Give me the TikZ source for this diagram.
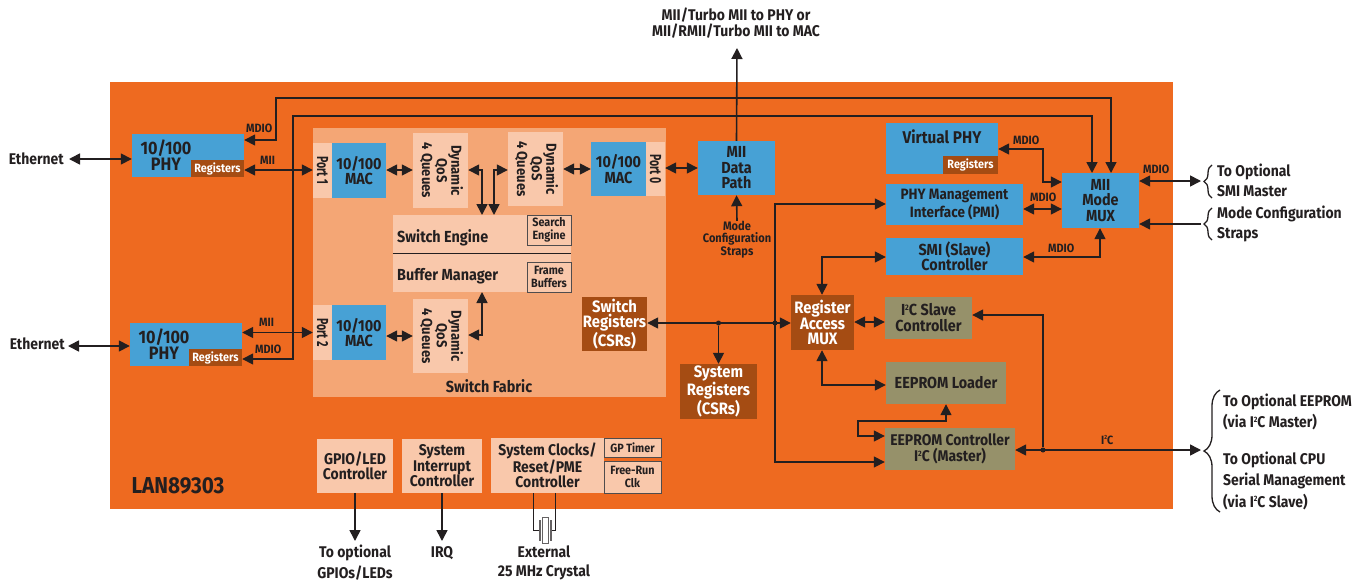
\documentclass[tikz,border=0pt]{standalone}
\usepackage{fontspec}
\setmainfont[FakeStretch=0.9]{Fira Sans}
\newfontfamily\portfont[FakeStretch=0.66]{Fira Sans}
\usetikzlibrary{arrows.meta,decorations.pathreplacing}
\definecolor{orng}{HTML}{EE6A20}
\definecolor{fabric}{HTML}{F4A675}
\definecolor{lite}{HTML}{F9C8AB}
\definecolor{blu}{HTML}{47A1D5}
\definecolor{brn}{HTML}{A54C13}
\definecolor{olv}{HTML}{96916A}
\definecolor{ink}{HTML}{231F20}
\newcommand\fsz[2]{\fontsize{#1}{#2}\selectfont}
\newcommand\sqd{\raisebox{0.36em}{\fontsize{0.5em}{0.5em}\selectfont 2}}
\newcommand\bx[7]{\node[#6,minimum width={(#4-(#2))*1pt},minimum height={(#5-(#3))*1pt},inner sep=0pt] (#1) at ({(#2+#4)/2},{(#3+#5)/2}) {#7};}
\tikzset{
 base/.style={text=ink,align=center,font=\fsz{15.5}{15.5}\bfseries},
 bluebox/.style={base,fill=blu,font=\fsz{16}{15.5}\bfseries},
 litebox/.style={base,fill=lite},
 portbox/.style={base,fill=lite,font=\portfont\fsz{16}{16}\bfseries},
 queuebox/.style={base,fill=lite,font=\fsz{14.5}{14.5}\bfseries},
 brnbox/.style={base,fill=brn,text=white,font=\fsz{16.5}{15.7}\bfseries},
 olvbox/.style={base,fill=olv,font=\fsz{16}{16}\bfseries},
 regbox/.style={base,fill=brn,text=white,font=\fsz{12}{12}\bfseries},
 subbox/.style={base,fill=lite,draw=ink!80,line width=0.8pt,font=\fsz{12}{13}\bfseries},
 lbl/.style={text=ink,font=\fsz{12}{12}\bfseries,inner sep=0pt},
 ext/.style={text=ink,font=\fsz{15.5}{15.5}\bfseries,inner sep=0pt,align=center},
 extl/.style={ext,anchor=west,align=left},
 wire/.style={draw=ink,line width=1.6pt},
 one/.style={wire,-{Triangle[length=11pt,width=11pt]}},
 two/.style={wire,{Triangle[length=11pt,width=11pt]}-{Triangle[length=11pt,width=11pt]}},
 dotj/.style={circle,fill=ink,inner sep=0pt,minimum size=5pt},
 brc/.style={draw=ink,line width=1.3pt,decorate,decoration={brace,amplitude=#1}},
 thin wire/.style={draw=ink,line width=0.9pt},
}
\begin{document}
\begin{tikzpicture}[x=1pt,y=-1pt]
\useasboundingbox (0,0) rectangle (1366,584);
% backgrounds
\bx{chip}{110}{82}{1173}{509}{fill=orng}{}
\bx{fabricbox}{313}{128}{666}{397}{fill=fabric}{}
% PHYs
\bx{phyA}{132}{134}{244}{177}{bluebox}{}
\node[base,font=\fsz{18}{16}\bfseries,inner sep=0pt] (phyAt) at (166,155) {10/100\\PHY};
\bx{phyAr}{191}{160}{244}{177}{regbox}{Registers}
\bx{phyB}{130}{323}{242}{366}{bluebox}{}
\node[base,font=\fsz{18}{16}\bfseries,inner sep=0pt] (phyBt) at (164,344) {10/100\\PHY};
\bx{phyBr}{189}{349}{242}{366}{regbox}{Registers}
% ports and MACs
\bx{portA}{313}{143}{332}{198}{portbox}{\rotatebox{-90}{Port 1}}
\bx{macA}{332}{143}{386}{198}{bluebox}{10/100\\MAC}
\bx{portB}{313}{305}{332}{360}{portbox}{\rotatebox{-90}{Port 2}}
\bx{macB}{332}{305}{386}{360}{bluebox}{10/100\\MAC}
\bx{macO}{591}{142}{646}{196}{bluebox}{10/100\\MAC}
\bx{portO}{646}{142}{665}{196}{portbox}{\rotatebox{-90}{Port 0}}
% queues
\bx{qA}{413}{133}{468}{208}{queuebox}{\rotatebox{-90}{\begin{tabular}{@{}c@{}}Dynamic\\QoS\\4 Queues\end{tabular}}}
\bx{qO}{508}{132}{563}{206}{queuebox}{\rotatebox{-90}{\begin{tabular}{@{}c@{}}Dynamic\\QoS\\4 Queues\end{tabular}}}
\bx{qB}{413}{299}{468}{373}{queuebox}{\rotatebox{-90}{\begin{tabular}{@{}c@{}}Dynamic\\QoS\\4 Queues\end{tabular}}}
% switch engine
\bx{swe}{393}{215}{571}{292}{fill=lite}{}
\draw[thin wire] (swe.west |- 0,253) -- (swe.east |- 0,253);
\node[base,anchor=west,inner sep=0pt,font=\fsz{16}{16}\bfseries] (swet) at (397,238) {Switch Engine};
\node[base,anchor=west,inner sep=0pt,font=\fsz{16}{16}\bfseries] (buft) at (397,276) {Buffer Manager};
\bx{srch}{527}{215}{571}{245}{subbox}{Search\\Engine}
\bx{frame}{527}{262}{571}{292}{subbox}{Frame\\Buffers}
\node[base,inner sep=0pt,font=\fsz{16}{16}\bfseries] (sft) at (489,386) {Switch Fabric};
% registers
\bx{swr}{582}{297}{647}{351}{brnbox}{Switch\\Registers\\(CSRs)}
\bx{sysr}{680}{364}{757}{419}{brnbox}{System\\Registers\\(CSRs)}
\bx{ram}{791}{295}{854}{350}{brnbox}{Register\\Access\\MUX}
% olive
\bx{i2cs}{885}{297}{972}{339}{olvbox}{I\sqd C Slave\\Controller}
\bx{eel}{886}{362}{1006}{404}{olvbox}{EEPROM Loader}
\bx{eec}{885}{428}{1015}{470}{olvbox,font=\fsz{15.5}{16}\bfseries}{EEPROM Controller\\I\sqd C (Master)}
% right blue
\bx{mii}{698}{141}{775}{195}{bluebox}{MII\\Data\\Path}
\bx{vphy}{886}{123}{998}{174}{bluebox}{}
\node[base,font=\fsz{17}{17}\bfseries,inner sep=0pt] (vphyt) at (942,137) {Virtual PHY};
\bx{vphyr}{943}{156}{998}{174}{regbox}{Registers}
\bx{pmi}{886}{184}{1023}{225}{bluebox,font=\fsz{15}{15.5}\bfseries}{PHY Management\\Interface (PMI)}
\bx{smi}{886}{238}{1023}{275}{bluebox}{SMI (Slave)\\Controller}
\bx{mux}{1062}{173}{1139}{228}{bluebox}{MII\\Mode\\MUX}
% bottom
\bx{gpio}{317}{439}{393}{493}{litebox}{GPIO/LED\\Controller}
\bx{sint}{402}{439}{482}{493}{litebox}{System\\Interrupt\\Controller}
\bx{clk}{491}{438}{604}{493}{litebox}{System Clocks/\\Reset/PME\\Controller}
\bx{gpt}{604}{438}{661}{457}{subbox}{GP Timer}
\bx{frc}{604}{461}{661}{493}{subbox}{Free-Run\\Clk}
\node[text=ink,font=\fsz{23}{23}\bfseries,inner sep=0pt] (lan) at (178,486) {LAN89303};
% external terminals
\node[ext,anchor=east] (ethA) at (64,159) {Ethernet};
\node[ext,anchor=east] (ethB) at (65,344) {Ethernet};
\node[ext] (topt) at (736,23) {MII/Turbo MII to PHY or\\MII/RMII/Turbo MII to MAC};
\node[text=ink,font=\fsz{12.3}{12.5}\bfseries,inner sep=0pt,align=center] (strp) at (737,239.5) {Mode\\Configuration\\Straps};
\node[extl] (smim) at (1217,180.5) {To Optional\\[4pt]SMI Master};
\node[extl] (mcfg) at (1217,224) {Mode Configuration\\[4pt]Straps};
\node[extl] (eopt) at (1223,412) {To Optional EEPROM\\[4pt](via I\sqd C Master)};
\node[extl] (copt) at (1223,481) {To Optional CPU\\[4pt]Serial Management\\[4pt](via I\sqd C Slave)};
\node[ext] (gpot) at (355,563) {To optional\\[4pt]GPIOs/LEDs};
\node[ext] (irq) at (442,553) {IRQ};
\node[ext] (xtal) at (544,563) {External\\[4pt]25 MHz Crystal};
% free ends
\coordinate (r1) at (1201,181);
\coordinate (r2) at (1201,224);
\coordinate (r3) at (1201,450);
\coordinate (gpoe) at (355,541);
\coordinate (irqe) at (442,541);
\coordinate (tope) at (737,48);
% junctions
\node[dotj] (j1) at (718.5,323) {};
\node[dotj] (j2) at (775,323) {};
\node[dotj] (j3) at (1043,450) {};
% connectors
\draw[two,shorten <=5pt] (ethA.east |- 0,159) -- (phyA.west |- 0,159);
\draw[two,shorten <=3pt] (ethB.east |- 0,346) -- (phyB.west |- 0,346);
\draw[two] (phyA.east |- 0,140) -- (276,140) -- (276,98) -- (1111,98) -- (1111,173);
\draw[two] (phyBr.east |- 0,359) -- (293,359) -- (293,116) -- (1092,116) -- (1092,173);
\draw[two] (phyAr.east |- 0,170) -- (portA.west |- 0,170);
\draw[two] (phyB.east |- 0,332.5) -- (portB.west |- 0,332.5);
\draw[two] (macA.east |- 0,170) -- (qA.west |- 0,170);
\draw[two] (macB.east |- 0,336) -- (qB.west |- 0,336);
\draw[two] (qO.east |- 0,169) -- (macO.west |- 0,169);
\draw[two] (portO.east |- 0,168) -- (mii.west |- 0,168);
\draw[two] (qA.east |- 0,170) -- (482,170) -- (482,215);
\draw[two] (qO.west |- 0,170) -- (494,170) -- (494,215);
\draw[two] (qB.east |- 0,335) -- (482,335) -- (482,292);
\draw[one] (mii.north) -- (tope);
\draw[one] (strp.north) -- (mii.south);
\draw[two] (vphy.east |- 0,149) -- (1043,149) -- (1043,182) -- (mux.west |- 0,182);
\draw[two] (pmi.east |- 0,209) -- (mux.west |- 0,209);
\draw[two] (smi.east |- 0,257) -- (1100,257) -- (mux.south -| 1100,0);
\draw[two] (mux.east |- 0,181) -- (r1);
\draw[one] (r2) -- (mux.east |- 0,224);
\draw[two] (swr.east |- 0,323) -- (ram.west |- 0,323);
\draw[one] (j1) -- (sysr.north -| j1);
\draw[two] (pmi.west |- 0,204) -- (775,204) -- (775,462) -- (eec.west |- 0,462);
\draw[two] (ram.north -| 822,0) -- (822,257) -- (smi.west |- 0,257);
\draw[two] (ram.east |- 0,322) -- (i2cs.west |- 0,322);
\draw[two] (ram.south -| 822,0) -- (822,385) -- (eel.west |- 0,385);
\draw[two] (eel.south -| 946,0) -- (946,421) -- (858,421) -- (858,436) -- (eec.west |- 0,436);
\draw[two] (eec.east |- 0,450) -- (r3);
\draw[one] (j3) -- (1043,315) -- (i2cs.east |- 0,315);
\draw[one] (gpio.south -| gpoe) -- (gpoe);
\draw[one] (sint.south -| irqe) -- (irqe);
% crystal
\draw[thin wire] (clk.south -| 533.5,0) -- (533.5,530.5) -- (541,530.5);
\draw[thin wire] (clk.south -| 555,0) -- (555,530.5) -- (550,530.5);
\draw[draw=ink!70,fill=white,line width=0.7pt] (542.5,517.5) rectangle (548.5,543);
\draw[draw=ink!70,line width=1.2pt] (540,520) -- (540,541);
\draw[draw=ink!70,line width=1.2pt] (551,520) -- (551,541);
% wire labels
\node[lbl,anchor=west] (l1) at (246,128) {MDIO};
\node[lbl,anchor=west] (l2) at (260,160) {MII};
\node[lbl,anchor=west] (l3) at (259,322) {MII};
\node[lbl,anchor=west] (l4) at (255,349) {MDIO};
\node[lbl,anchor=west] (l5) at (1013,140) {MDIO};
\node[lbl,anchor=west] (l6) at (1030,197) {MDIO};
\node[lbl,anchor=west] (l7) at (1048,248) {MDIO};
\node[lbl,anchor=west] (l8) at (1143,169) {MDIO};
\node[lbl,anchor=west] (l9) at (1101,440) {I\sqd C};
% braces
\draw[brc=8pt] (1212,198) -- (1212,165);
\draw[brc=8pt] (1212,240) -- (1212,208);
\draw[brc=16pt] (1220,512) -- (1220,390);
\end{tikzpicture}
\end{document}
